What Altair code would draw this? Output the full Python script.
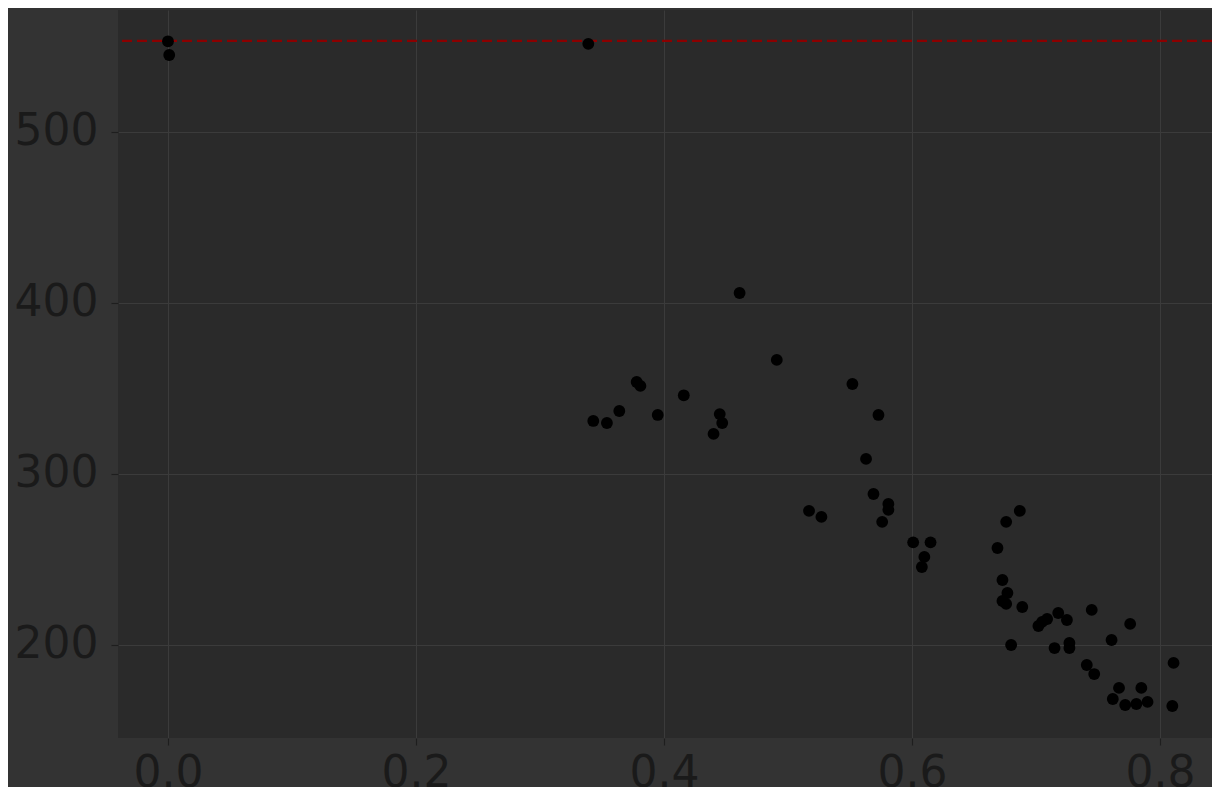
import altair as alt
import pandas as pd

x_vals = [0.000, 0.001, 0.339, 0.461, 0.491, 0.343, 0.354, 0.364, 0.378, 0.381,
          0.395, 0.416, 0.445, 0.447, 0.440, 0.517, 0.527, 0.552, 0.573, 0.563,
          0.569, 0.581, 0.581, 0.576, 0.601, 0.615, 0.610, 0.608, 0.669, 0.676,
          0.687, 0.673, 0.677, 0.673, 0.676, 0.689, 0.702, 0.705, 0.709, 0.718,
          0.725, 0.745, 0.776, 0.680, 0.715, 0.727, 0.727, 0.761, 0.741, 0.747,
          0.811, 0.767, 0.785, 0.762, 0.772, 0.781, 0.790, 0.810]
y_vals = [553.0, 545.0, 551.5, 405.8, 366.7, 331.0, 329.8, 336.8, 353.8, 351.5,
          334.5, 346.0, 335.0, 329.8, 323.4, 278.4, 274.9, 352.6, 334.5, 308.8,
          288.3, 282.5, 279.0, 272.0, 260.0, 260.0, 251.5, 245.6, 256.7, 272.0,
          278.4, 238.0, 230.4, 225.7, 224.0, 222.2, 211.1, 213.5, 215.2, 218.7,
          214.6, 220.5, 212.3, 200.0, 198.2, 198.2, 201.2, 202.9, 188.3, 183.0,
          189.5, 174.9, 174.9, 168.4, 164.9, 165.5, 166.7, 164.3]
threshold = [553.2]
x_ticks = [0.0, 0.2, 0.4, 0.6, 0.8]
y_ticks = [200, 300, 400, 500]

pts = pd.DataFrame({"x": x_vals, "y": y_vals})
thr = pd.DataFrame({"t": threshold})

xs = alt.Scale(domain=[-0.0403, 0.842], nice=False, zero=False)
ys = alt.Scale(domain=[145.6, 571.3], nice=False, zero=False)

points = alt.Chart(pts).mark_circle(size=140, color="#000000", opacity=1).encode(
    x=alt.X("x:Q", scale=xs,
            axis=alt.Axis(values=x_ticks, format=".1f", title=None)),
    y=alt.Y("y:Q", scale=ys,
            axis=alt.Axis(values=y_ticks, format="d", title=None)),
)

rule = alt.Chart(thr).mark_rule(color="#8b0000", strokeWidth=2.2,
                                strokeDash=[10, 5]).encode(y=alt.Y("t:Q", scale=ys))

chart = alt.layer(rule, points).properties(
    width=1094, height=728,
    autosize=alt.AutoSizeParams(type="none"),
    padding={"left": 110, "top": 2, "right": 0, "bottom": 49},
    background="#333333",
).configure_view(
    fill="#2a2a2a", stroke=None
).configure_axis(
    labelFont="DejaVu Sans", labelFontSize=44, labelColor="#1a1a1a",
    tickColor="#1e1e1e", tickSize=7, tickWidth=1.2, domain=False,
    gridColor="#3b3b3b", gridWidth=1,
).configure_axisX(labelPadding=6).configure_axisY(labelPadding=13)

chart.save("out.html", embed_options={"renderer": "svg", "actions": False})
